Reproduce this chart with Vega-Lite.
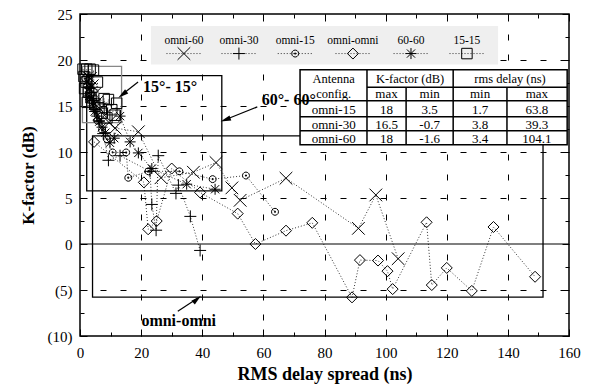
{
  "$schema": "https://vega.github.io/schema/vega-lite/v6.json",
  "width": 489,
  "height": 322,
  "autosize": {"type": "none"},
  "padding": {"left": 80, "top": 14, "right": 24, "bottom": 49},
  "background": "white",
  "config": {
    "view": {"stroke": "black", "strokeWidth": 1.5},
    "font": "Liberation Serif",
    "axis": {
      "domain": false,
      "labelFont": "Liberation Serif",
      "labelFontSize": 15,
      "labelColor": "black",
      "titleFont": "Liberation Serif",
      "titleFontSize": 18,
      "titleFontWeight": "bold",
      "titleColor": "black",
      "tickColor": "black",
      "tickWidth": 1,
      "gridColor": "black",
      "gridDash": [6, 14],
      "gridWidth": 1,
      "labelOverlap": false,
      "labelFlush": false
    }
  },
  "resolve": {"axis": {"x": "independent", "y": "independent"}},
  "datasets": {
    "pts": [
      {"s": "omni-omni", "x": 4.6, "y": 11.1},
      {"s": "omni-omni", "x": 20.9, "y": 6.7},
      {"s": "omni-omni", "x": 22.3, "y": 1.6},
      {"s": "omni-omni", "x": 25.1, "y": 2.5},
      {"s": "omni-omni", "x": 30.0, "y": 8.2},
      {"s": "omni-omni", "x": 39.3, "y": 5.6},
      {"s": "omni-omni", "x": 51.6, "y": 3.3},
      {"s": "omni-omni", "x": 57.4, "y": 0.0},
      {"s": "omni-omni", "x": 67.4, "y": 1.45},
      {"s": "omni-omni", "x": 76.0, "y": 2.3},
      {"s": "omni-omni", "x": 89.0, "y": -5.8},
      {"s": "omni-omni", "x": 91.6, "y": -1.75},
      {"s": "omni-omni", "x": 97.5, "y": -1.8},
      {"s": "omni-omni", "x": 100.6, "y": -2.95},
      {"s": "omni-omni", "x": 102.3, "y": -4.9},
      {"s": "omni-omni", "x": 113.4, "y": 2.36},
      {"s": "omni-omni", "x": 115.1, "y": -4.46},
      {"s": "omni-omni", "x": 120.0, "y": -2.6},
      {"s": "omni-omni", "x": 128.2, "y": -5.1},
      {"s": "omni-omni", "x": 135.3, "y": 1.85},
      {"s": "omni-omni", "x": 148.9, "y": -3.56},
      {"s": "omni-60", "x": 3.4, "y": 18.0},
      {"s": "omni-60", "x": 4.0, "y": 17.2},
      {"s": "omni-60", "x": 4.8, "y": 16.3},
      {"s": "omni-60", "x": 5.5, "y": 15.4},
      {"s": "omni-60", "x": 6.5, "y": 14.7},
      {"s": "omni-60", "x": 8.0, "y": 14.0},
      {"s": "omni-60", "x": 9.5, "y": 13.2},
      {"s": "omni-60", "x": 11.5, "y": 12.6},
      {"s": "omni-60", "x": 19.1, "y": 12.2},
      {"s": "omni-60", "x": 26.5, "y": 7.2},
      {"s": "omni-60", "x": 37.1, "y": 7.8},
      {"s": "omni-60", "x": 44.5, "y": 8.85},
      {"s": "omni-60", "x": 49.7, "y": 6.1},
      {"s": "omni-60", "x": 52.4, "y": 4.75},
      {"s": "omni-60", "x": 67.4, "y": 7.15},
      {"s": "omni-60", "x": 91.1, "y": 1.7},
      {"s": "omni-60", "x": 96.8, "y": 5.33},
      {"s": "omni-60", "x": 104.1, "y": -1.6},
      {"s": "omni-15", "x": 1.7, "y": 18.0},
      {"s": "omni-15", "x": 2.3, "y": 17.2},
      {"s": "omni-15", "x": 2.8, "y": 16.4},
      {"s": "omni-15", "x": 3.5, "y": 15.6},
      {"s": "omni-15", "x": 4.3, "y": 14.8},
      {"s": "omni-15", "x": 5.7, "y": 13.4},
      {"s": "omni-15", "x": 7.2, "y": 12.4},
      {"s": "omni-15", "x": 8.8, "y": 11.4},
      {"s": "omni-15", "x": 10.7, "y": 9.95},
      {"s": "omni-15", "x": 15.1, "y": 9.95},
      {"s": "omni-15", "x": 15.8, "y": 7.2},
      {"s": "omni-15", "x": 22.4, "y": 7.9},
      {"s": "omni-15", "x": 32.5, "y": 7.9},
      {"s": "omni-15", "x": 43.4, "y": 7.05},
      {"s": "omni-15", "x": 54.3, "y": 7.44},
      {"s": "omni-15", "x": 63.8, "y": 3.5},
      {"s": "omni-30", "x": 3.8, "y": 16.5},
      {"s": "omni-30", "x": 4.4, "y": 15.6},
      {"s": "omni-30", "x": 5.2, "y": 14.6},
      {"s": "omni-30", "x": 6.2, "y": 13.4},
      {"s": "omni-30", "x": 7.6, "y": 12.0},
      {"s": "omni-30", "x": 9.3, "y": 9.1},
      {"s": "omni-30", "x": 13.1, "y": 9.6},
      {"s": "omni-30", "x": 22.9, "y": 7.9},
      {"s": "omni-30", "x": 23.5, "y": 4.3},
      {"s": "omni-30", "x": 24.9, "y": 1.5},
      {"s": "omni-30", "x": 25.6, "y": 9.6},
      {"s": "omni-30", "x": 31.4, "y": 5.5},
      {"s": "omni-30", "x": 32.2, "y": 6.4},
      {"s": "omni-30", "x": 36.1, "y": 3.0},
      {"s": "omni-30", "x": 39.3, "y": -0.7},
      {"s": "60-60", "x": 2.6, "y": 18.2},
      {"s": "60-60", "x": 2.9, "y": 17.4},
      {"s": "60-60", "x": 3.3, "y": 16.9},
      {"s": "60-60", "x": 3.0, "y": 16.1},
      {"s": "60-60", "x": 3.8, "y": 15.8},
      {"s": "60-60", "x": 4.2, "y": 15.0},
      {"s": "60-60", "x": 4.8, "y": 14.4},
      {"s": "60-60", "x": 5.5, "y": 13.9},
      {"s": "60-60", "x": 6.3, "y": 13.3},
      {"s": "60-60", "x": 7.2, "y": 12.7},
      {"s": "60-60", "x": 8.3, "y": 12.1},
      {"s": "60-60", "x": 9.8, "y": 11.0},
      {"s": "60-60", "x": 11.2, "y": 11.5},
      {"s": "60-60", "x": 13.1, "y": 13.9},
      {"s": "60-60", "x": 16.4, "y": 11.1},
      {"s": "60-60", "x": 19.1, "y": 9.9},
      {"s": "60-60", "x": 23.5, "y": 8.2},
      {"s": "60-60", "x": 34.9, "y": 6.5},
      {"s": "60-60", "x": 44.2, "y": 5.95},
      {"s": "15-15", "x": 1.0, "y": 19.0},
      {"s": "15-15", "x": 2.2, "y": 19.0},
      {"s": "15-15", "x": 3.3, "y": 19.0},
      {"s": "15-15", "x": 4.4, "y": 18.9},
      {"s": "15-15", "x": 1.3, "y": 18.2},
      {"s": "15-15", "x": 2.0, "y": 17.6},
      {"s": "15-15", "x": 1.5, "y": 16.9},
      {"s": "15-15", "x": 2.8, "y": 16.5},
      {"s": "15-15", "x": 5.7, "y": 17.6},
      {"s": "15-15", "x": 3.6, "y": 15.9},
      {"s": "15-15", "x": 2.4, "y": 15.4},
      {"s": "15-15", "x": 4.8, "y": 15.2},
      {"s": "15-15", "x": 7.9, "y": 15.8},
      {"s": "15-15", "x": 6.2, "y": 14.8},
      {"s": "15-15", "x": 9.3, "y": 15.7},
      {"s": "15-15", "x": 7.3, "y": 14.2},
      {"s": "15-15", "x": 10.4, "y": 14.6},
      {"s": "15-15", "x": 12.0, "y": 15.3},
      {"s": "15-15", "x": 8.8, "y": 13.7},
      {"s": "15-15", "x": 11.5, "y": 14.0}
    ],
    "boxes": [
      {"b": "oo", "x": 4.1, "x2": 151.5, "y": 11.76, "y2": -5.77},
      {"b": "66", "x": 2.2, "x2": 46.4, "y": 18.3, "y2": 5.77},
      {"b": "15", "x": 0.8, "x2": 13.6, "y": 19.3, "y2": 13.2}
    ],
    "zero": [{"x": 0, "x2": 160, "y": 0}],
    "legBg": [{"x": 23.2, "x2": 136.8, "y": 23.7, "y2": 19.5}],
    "legLines": [
      {"x": 28.3, "x2": 39.7, "y": 20.7},
      {"x": 46.3, "x2": 57.7, "y": 20.7},
      {"x": 64.7, "x2": 76.1, "y": 20.7},
      {"x": 83.6, "x2": 95.0, "y": 20.7},
      {"x": 102.6, "x2": 114.0, "y": 20.7},
      {"x": 120.9, "x2": 132.3, "y": 20.7}
    ],
    "legPts": [
      {"s": "omni-60", "x": 34.0, "y": 20.7},
      {"s": "omni-30", "x": 52.0, "y": 20.7},
      {"s": "omni-15", "x": 70.4, "y": 20.7},
      {"s": "omni-omni", "x": 89.3, "y": 20.7},
      {"s": "60-60", "x": 108.3, "y": 20.7},
      {"s": "15-15", "x": 126.6, "y": 20.7}
    ],
    "legText": [
      {"t": "omni-60", "x": 34.0, "y": 22.1},
      {"t": "omni-30", "x": 52.0, "y": 22.1},
      {"t": "omni-15", "x": 70.4, "y": 22.1},
      {"t": "omni-omni", "x": 89.3, "y": 22.1},
      {"t": "60-60", "x": 108.3, "y": 22.1},
      {"t": "15-15", "x": 126.6, "y": 22.1}
    ],
    "tblBg": [{"x": 72.0, "x2": 159.4, "y": 18.94, "y2": 10.78}],
    "tblLines": [
      {"x": 72.0, "x2": 159.4, "y": 15.57, "y2": 15.57},
      {"x": 72.0, "x2": 159.4, "y": 13.83, "y2": 13.83},
      {"x": 72.0, "x2": 159.4, "y": 12.3, "y2": 12.3},
      {"x": 93.9, "x2": 159.4, "y": 17.05, "y2": 17.05},
      {"x": 93.9, "x2": 93.9, "y": 18.94, "y2": 10.78},
      {"x": 106.7, "x2": 106.7, "y": 17.05, "y2": 10.78},
      {"x": 122.1, "x2": 122.1, "y": 18.94, "y2": 10.78},
      {"x": 139.7, "x2": 139.7, "y": 17.05, "y2": 10.78}
    ],
    "tblHead": [
      {"t": "Antenna", "x": 83.0, "y": 17.95},
      {"t": "config.", "x": 83.0, "y": 16.3},
      {"t": "K-factor (dB)", "x": 108.0, "y": 17.95},
      {"t": "rms delay (ns)", "x": 140.7, "y": 17.95}
    ],
    "tblText": [
      {"t": "max", "x": 100.3, "y": 16.3},
      {"t": "min", "x": 114.4, "y": 16.3},
      {"t": "min", "x": 130.9, "y": 16.3},
      {"t": "max", "x": 149.5, "y": 16.3},
      {"t": "omni-15", "x": 83.0, "y": 14.6},
      {"t": "18", "x": 100.3, "y": 14.6},
      {"t": "3.5", "x": 114.4, "y": 14.6},
      {"t": "1.7", "x": 130.9, "y": 14.6},
      {"t": "63.8", "x": 149.5, "y": 14.6},
      {"t": "omni-30", "x": 83.0, "y": 12.95},
      {"t": "16.5", "x": 100.3, "y": 12.95},
      {"t": "-0.7", "x": 114.4, "y": 12.95},
      {"t": "3.8", "x": 130.9, "y": 12.95},
      {"t": "39.3", "x": 149.5, "y": 12.95},
      {"t": "omni-60", "x": 83.0, "y": 11.45},
      {"t": "18", "x": 100.3, "y": 11.45},
      {"t": "-1.6", "x": 114.4, "y": 11.45},
      {"t": "3.4", "x": 130.9, "y": 11.45},
      {"t": "104.1", "x": 149.5, "y": 11.45}
    ],
    "notes": [
      {"t": "15°- 15°", "x": 29.5, "y": 17.1},
      {"t": "60°- 60°", "x": 68.3, "y": 15.7},
      {"t": "omni-omni", "x": 32.3, "y": -8.4}
    ],
    "arrows": [
      {"x": 19.0, "y": 17.6, "x2": 14.0, "y2": 16.3},
      {"x": 58.0, "y": 14.9, "x2": 47.5, "y2": 13.5},
      {"x": 32.0, "y": -7.3, "x2": 38.5, "y2": -5.9}
    ],
    "head1": [{"x": 13.9, "y": 16.25}],
    "head2": [{"x": 47.6, "y": 13.5}],
    "head3": [{"x": 38.3, "y": -6.0}]
  },
  "encoding": {
    "x": {"field": "x", "type": "quantitative", "scale": {"domain": [0, 160], "nice": false, "zero": false}, "axis": null},
    "y": {"field": "y", "type": "quantitative", "scale": {"domain": [-10, 25], "nice": false, "zero": false}, "axis": null}
  },
  "layer": [
    {
      "data": {"name": "legBg"},
      "mark": {"type": "rect", "fill": "#efefef"},
      "encoding": {
        "x": {"field": "x", "type": "quantitative", "scale": {"domain": [0, 160], "nice": false, "zero": false},
          "axis": {"orient": "top", "title": null, "labels": false, "grid": false,
            "values": [0, 10, 20, 30, 40, 50, 60, 70, 80, 90, 100, 110, 120, 130, 140, 150, 160],
            "tickSize": {"condition": {"test": "datum.value % 20 === 0", "value": -7}, "value": -4}}},
        "y": {"field": "y", "type": "quantitative", "scale": {"domain": [-10, 25], "nice": false, "zero": false},
          "axis": {"orient": "right", "title": null, "labels": false, "grid": false,
            "values": [-10, -7.5, -5, -2.5, 0, 2.5, 5, 7.5, 10, 12.5, 15, 17.5, 20, 22.5, 25],
            "tickSize": {"condition": {"test": "datum.value % 5 === 0", "value": -7}, "value": -4}}},
        "x2": {"field": "x2"}, "y2": {"field": "y2"}
      }
    },
    {
      "data": {"name": "zero"},
      "mark": {"type": "rule", "color": "black", "strokeWidth": 1.2},
      "encoding": {
        "x": {"field": "x", "type": "quantitative", "scale": {"domain": [0, 160], "nice": false, "zero": false},
          "axis": {
            "orient": "bottom",
            "title": "RMS delay spread (ns)",
            "titleFont": "Liberation Serif",
            "labelFont": "Liberation Serif",
            "values": [0, 10, 20, 30, 40, 50, 60, 70, 80, 90, 100, 110, 120, 130, 140, 150, 160],
            "labelExpr": "datum.value % 20 === 0 ? datum.label : ''",
            "tickSize": {"condition": {"test": "datum.value % 20 === 0", "value": -7}, "value": -4},
            "labelPadding": 16,
            "grid": true,
            "gridOpacity": {"condition": {"test": "datum.value % 20 === 0 && datum.value > 0 && datum.value < 160", "value": 1}, "value": 0},
            "titlePadding": 2
          }},
        "y": {"field": "y", "type": "quantitative", "scale": {"domain": [-10, 25], "nice": false, "zero": false},
          "axis": {
            "orient": "left",
            "title": "K-factor (dB)",
            "titleFont": "Liberation Serif",
            "labelFont": "Liberation Serif",
            "titleFontSize": 17,
            "values": [-10, -7.5, -5, -2.5, 0, 2.5, 5, 7.5, 10, 12.5, 15, 17.5, 20, 22.5, 25],
            "labelExpr": "datum.value % 5 !== 0 ? '' : (datum.value < 0 ? '(' + abs(datum.value) + ')' : datum.label)",
            "tickSize": {"condition": {"test": "datum.value % 5 === 0", "value": -7}, "value": -4},
            "labelPadding": 15,
            "grid": true,
            "gridOpacity": {"condition": {"test": "datum.value % 5 === 0 && datum.value > -10 && datum.value < 25 && datum.value !== 0", "value": 1}, "value": 0},
            "titlePadding": 10
          }},
        "x2": {"field": "x2"}
      }
    },
    {
      "data": {"name": "boxes"},
      "mark": {"type": "rect", "filled": false, "strokeWidth": 1.3},
      "encoding": {
        "x2": {"field": "x2"},
        "y2": {"field": "y2"},
        "stroke": {"field": "b", "type": "nominal", "scale": {"domain": ["oo", "66", "15"], "range": ["black", "black", "#888888"]}, "legend": null}
      }
    },
    {
      "data": {"name": "pts"},
      "mark": {"type": "line", "color": "black", "strokeWidth": 0.8, "strokeDash": [1, 2]},
      "encoding": {"detail": {"field": "s", "type": "nominal"}}
    },
    {
      "data": {"name": "pts"},
      "mark": {"type": "point", "filled": false, "color": "black", "strokeWidth": 1, "opacity": 1},
      "encoding": {
        "shape": {"field": "s", "type": "nominal", "legend": null, "scale": {"domain": ["omni-60", "omni-30", "omni-15", "omni-omni", "60-60", "15-15"], "range": ["M-1,-1L1,1M-1,1L1,-1", "M-1,0L1,0M0,-1L0,1", "M1,0L0.866,0.5L0.5,0.866L0,1L-0.5,0.866L-0.866,0.5L-1,0L-0.866,-0.5L-0.5,-0.866L0,-1L0.5,-0.866L0.866,-0.5ZM-0.15,-0.15L0.15,-0.15L0.15,0.15L-0.15,0.15Z", "M0,-1L1,0L0,1L-1,0Z", "M-1,0L1,0M-0.75,-0.75L0.75,0.75M-0.75,0.75L0.75,-0.75M0,-1L0,1", "M-1,-1L1,-1L1,1L-1,1Z"]}},
        "size": {"field": "s", "type": "nominal", "legend": null, "scale": {"type": "ordinal", "domain": ["omni-60", "omni-30", "omni-15", "omni-omni", "60-60", "15-15"], "range": [160, 144, 49, 121, 121, 110]}}
      }
    },
    {
      "data": {"name": "tblBg"},
      "mark": {"type": "rect", "fill": "white", "stroke": "black", "strokeWidth": 1.5},
      "encoding": {"x2": {"field": "x2"}, "y2": {"field": "y2"}}
    },
    {
      "data": {"name": "tblLines"},
      "mark": {"type": "rule", "color": "black", "strokeWidth": 1.5},
      "encoding": {"x2": {"field": "x2"}, "y2": {"field": "y2"}}
    },
    {
      "data": {"name": "tblText"},
      "mark": {"type": "text", "font": "Liberation Serif", "fontSize": 13, "letterSpacing": 1.3, "color": "black", "baseline": "middle", "align": "center"},
      "encoding": {"text": {"field": "t"}}
    },
    {
      "data": {"name": "tblHead"},
      "mark": {"type": "text", "font": "Liberation Serif", "fontSize": 12.5, "letterSpacing": 0.7, "color": "black", "baseline": "middle", "align": "center"},
      "encoding": {"text": {"field": "t"}}
    },
    {
      "data": {"name": "legLines"},
      "mark": {"type": "rule", "color": "black", "strokeWidth": 0.8, "strokeDash": [1, 2]},
      "encoding": {"x2": {"field": "x2"}}
    },
    {
      "data": {"name": "legPts"},
      "mark": {"type": "point", "filled": false, "color": "black", "strokeWidth": 1, "opacity": 1},
      "encoding": {
        "shape": {"field": "s", "type": "nominal", "legend": null, "scale": {"domain": ["omni-60", "omni-30", "omni-15", "omni-omni", "60-60", "15-15"], "range": ["M-1,-1L1,1M-1,1L1,-1", "M-1,0L1,0M0,-1L0,1", "M1,0L0.866,0.5L0.5,0.866L0,1L-0.5,0.866L-0.866,0.5L-1,0L-0.866,-0.5L-0.5,-0.866L0,-1L0.5,-0.866L0.866,-0.5ZM-0.15,-0.15L0.15,-0.15L0.15,0.15L-0.15,0.15Z", "M0,-1L1,0L0,1L-1,0Z", "M-1,0L1,0M-0.75,-0.75L0.75,0.75M-0.75,0.75L0.75,-0.75M0,-1L0,1", "M-1,-1L1,-1L1,1L-1,1Z"]}},
        "size": {"field": "s", "type": "nominal", "legend": null, "scale": {"type": "ordinal", "domain": ["omni-60", "omni-30", "omni-15", "omni-omni", "60-60", "15-15"], "range": [160, 144, 49, 121, 121, 110]}}
      }
    },
    {
      "data": {"name": "legText"},
      "mark": {"type": "text", "font": "Liberation Serif", "fontSize": 11.5, "letterSpacing": 0.8, "color": "black", "baseline": "middle", "align": "center"},
      "encoding": {"text": {"field": "t"}}
    },
    {
      "data": {"name": "notes"},
      "mark": {"type": "text", "font": "Liberation Serif", "fontSize": 16, "fontWeight": "bold", "letterSpacing": 1, "color": "black", "baseline": "middle", "align": "center"},
      "encoding": {"text": {"field": "t"}}
    },
    {
      "data": {"name": "arrows"},
      "mark": {"type": "rule", "color": "black", "strokeWidth": 1.2},
      "encoding": {"x2": {"field": "x2"}, "y2": {"field": "y2"}}
    },
    {
      "data": {"name": "head1"},
      "mark": {"type": "point", "shape": "M0,-1L0.5,1L-0.5,1Z", "filled": true, "color": "black", "size": 110, "angle": 233, "opacity": 1}
    },
    {
      "data": {"name": "head2"},
      "mark": {"type": "point", "shape": "M0,-1L0.5,1L-0.5,1Z", "filled": true, "color": "black", "size": 110, "angle": 250, "opacity": 1}
    },
    {
      "data": {"name": "head3"},
      "mark": {"type": "point", "shape": "M0,-1L0.5,1L-0.5,1Z", "filled": true, "color": "black", "size": 110, "angle": 49, "opacity": 1}
    }
  ]
}
